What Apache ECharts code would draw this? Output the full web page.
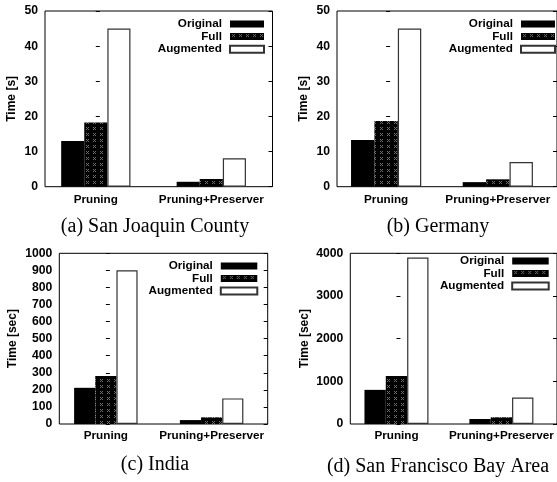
<!DOCTYPE html>
<html>
<head>
<meta charset="utf-8">
<script src="https://cdn.jsdelivr.net/npm/echarts@6/dist/echarts.min.js"></script>
<style>
  html, body { margin: 0; padding: 0; background: #fff; }
  #main { width: 557px; height: 482px; }
</style>
</head>
<body>
<div id="main"></div>
<script>
// values
const categories = ['Pruning', 'Pruning+Preserver'];
const seriesNames = ['Original', 'Full', 'Augmented'];

const sjOriginal = [13.0, 1.4];
const sjFull = [18.3, 2.2];
const sjAugmented = [45.0, 8.1];

const deOriginal = [13.3, 1.3];
const deFull = [18.7, 2.1];
const deAugmented = [45.0, 7.0];

const inOriginal = [212, 23];
const inFull = [281, 39];
const inAugmented = [900, 150];

const sfOriginal = [800, 117];
const sfFull = [1125, 157];
const sfAugmented = [3900, 620];

const captions = ['(a) San Joaquin County', '(b) Germany', '(c) India', '(d) San Francisco Bay Area'];
const yNames = ['Time [s]', 'Time [s]', 'Time [sec]', 'Time [sec]'];
const yMax = [50, 50, 1000, 4000];
const yInterval = [10, 10, 100, 1000];

const panelData = [
    [sjOriginal, sjFull, sjAugmented],
    [deOriginal, deFull, deAugmented],
    [inOriginal, inFull, inAugmented],
    [sfOriginal, sfFull, sfAugmented]
];

// layout of each panel (pixels)
const panels = [
    { left: 45, top: 11, width: 227.5, height: 175.7, nameGap: 27, legendRight: 292, legendTop: 17.7, iconW: 34, lh: 12.6, capX: 155, capY: 217, labelMargin: 7 },
    { left: 337, top: 11, width: 230.5, height: 175.7, nameGap: 27, legendRight: 1, legendTop: 17.7, iconW: 34, lh: 12.6, capX: 438, capY: 217, labelMargin: 7 },
    { left: 59.3, top: 253.3, width: 208.4, height: 170.7, nameGap: 41, legendRight: 298.7, legendTop: 259.7, iconW: 36.5, lh: 12.5, capX: 155, capY: 455, labelMargin: 6 },
    { left: 350.3, top: 253.3, width: 210.2, height: 170.7, nameGap: 40, legendRight: 7.3, legendTop: 254.7, iconW: 36.5, lh: 12.5, capX: 438, capY: 457, labelMargin: 6 }
];

const X_MIN = -0.44, X_MAX = 1.53;
const SANS = "'Liberation Sans', Arial, sans-serif";

function makeDotPattern() {
    let c = document.createElement('canvas');
    c.width = 7;
    c.height = 6;
    let ctx = c.getContext('2d');
    ctx.fillStyle = '#000';
    ctx.fillRect(0, 0, 7, 6);
    ctx.fillStyle = '#6e6e6e';
    [[2, 1], [4, 1], [3, 2], [2, 3], [4, 3]].forEach(function (p) {
        ctx.fillRect(p[0], p[1], 1, 1);
    });
    return c;
}

let dotPattern = { image: makeDotPattern(), repeat: 'repeat' };

let barStyles = [
    { color: '#000', borderColor: '#000', borderWidth: 0 },
    { color: dotPattern, borderColor: '#000', borderWidth: 0 },
    { color: '#fff', borderColor: '#333', borderWidth: 1.2 }
];

let grid = [], xAxis = [], yAxis = [], series = [], legend = [], title = [];

panels.forEach(function (p, i) {
    grid.push({
        left: p.left, top: p.top, width: p.width, height: p.height,
        show: true, borderColor: '#000', borderWidth: 1, backgroundColor: 'transparent'
    });
    xAxis.push({
        type: 'value', gridIndex: i, min: X_MIN, max: X_MAX,
        axisLine: { show: false },
        axisTick: { show: false },
        splitLine: { show: false },
        axisLabel: {
            customValues: [0, 1],
            margin: p.labelMargin,
            color: '#000', fontFamily: SANS, fontWeight: 'bold', fontSize: 11.7,
            formatter: function (v) { return categories[Math.round(v)]; }
        }
    });
    // left axis with labels
    yAxis.push({
        type: 'value', gridIndex: i, position: 'left',
        min: 0, max: yMax[i], interval: yInterval[i],
        name: yNames[i], nameLocation: 'middle', nameGap: p.nameGap,
        nameTextStyle: { color: '#000', fontFamily: SANS, fontWeight: 'bold', fontSize: 12 },
        axisLine: { show: false },
        axisTick: { show: true, inside: true, length: 4, lineStyle: { color: '#000' } },
        splitLine: { show: false },
        axisLabel: {
            margin: 7, color: '#000', fontFamily: SANS, fontWeight: 'bold', fontSize: 12.2,
            formatter: function (v) { return String(v); }
        }
    });
    // mirrored ticks on the right border
    yAxis.push({
        type: 'value', gridIndex: i, position: 'right',
        min: 0, max: yMax[i], interval: yInterval[i],
        axisLine: { show: false },
        axisTick: { show: true, inside: true, length: 4, lineStyle: { color: '#000' } },
        splitLine: { show: false },
        axisLabel: { show: false }
    });
    let unit = p.width / (X_MAX - X_MIN);
    panelData[i].forEach(function (vals, s) {
        series.push({
            name: seriesNames[s],
            type: 'bar',
            xAxisIndex: i,
            yAxisIndex: i * 2,
            barWidth: unit * 0.2,
            barGap: '0%',
            itemStyle: barStyles[s],
            emphasis: { disabled: true },
            data: vals.map(function (v, k) { return [k, v]; })
        });
    });
    legend.push({
        orient: 'vertical', align: 'right',
        right: p.legendRight, top: p.legendTop,
        padding: 0, itemGap: 0,
        itemWidth: p.iconW, itemHeight: 7,
        icon: 'rect', selectedMode: false,
        data: seriesNames,
        textStyle: {
            color: '#000', fontFamily: SANS, fontWeight: 'bold', fontSize: 11.7,
            lineHeight: p.lh, padding: [0, 3, 0, 0]
        }
    });
    title.push({
        text: captions[i],
        left: p.capX, top: p.capY, textAlign: 'center', padding: 0,
        textStyle: {
            color: '#000', fontFamily: "'Liberation Serif', 'Times New Roman', serif",
            fontWeight: 'normal', fontSize: 20, lineHeight: 20
        }
    });
});

let chart = echarts.init(document.getElementById('main'), null, { renderer: 'canvas' });
let option = {
    animation: false,
    backgroundColor: '#fff',
    title: title,
    legend: legend,
    grid: grid,
    xAxis: xAxis,
    yAxis: yAxis,
    series: series
};
option && chart.setOption(option);
</script>
</body>
</html>
